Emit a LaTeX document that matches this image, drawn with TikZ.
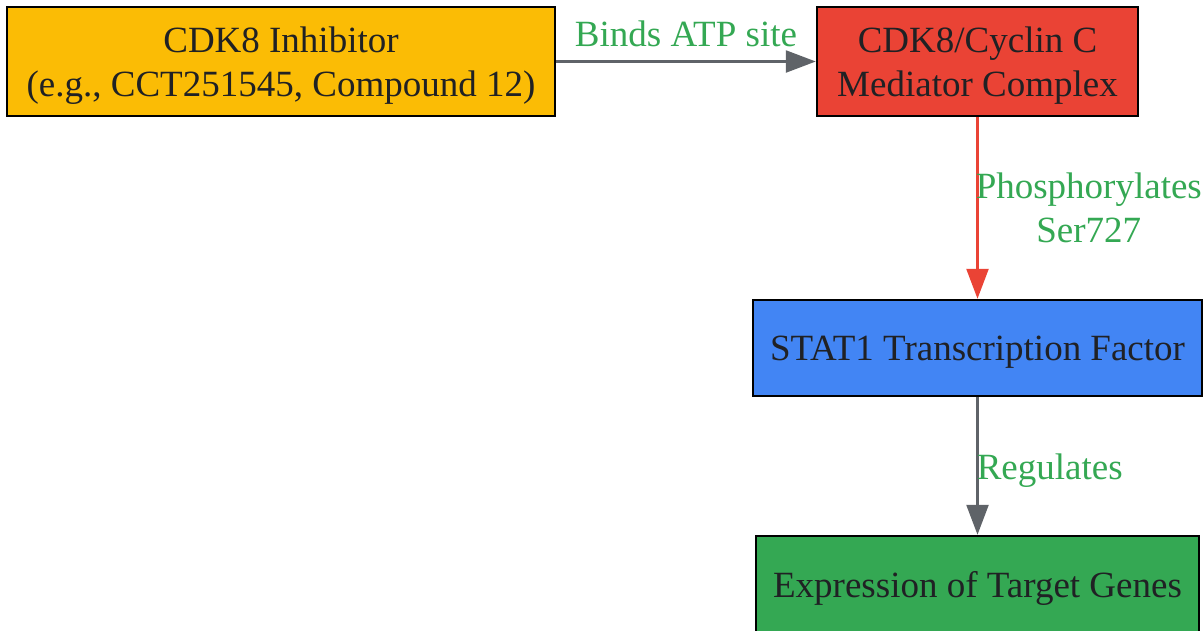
\documentclass[tikz,border=0pt]{standalone}
\usepackage{fontspec}
\setmainfont{Liberation Serif}
\usetikzlibrary{arrows.meta}

\definecolor{cYellow}{HTML}{FBBC05}
\definecolor{cRed}{HTML}{EA4335}
\definecolor{cBlue}{HTML}{4285F4}
\definecolor{cGreen}{HTML}{34A853}
\definecolor{cText}{HTML}{202124}
\definecolor{cGray}{HTML}{5F6368}

\begin{document}
\begin{tikzpicture}[x=1pt,y=-1pt]
	\useasboundingbox (0,0) rectangle (1204,630);
	\clip (0,0) rectangle (1204,630);
	\begin{scope}
		[
			styleText/.style={align=center, text=cText, yshift=-4pt,
				font=\fontsize{37}{44}\selectfont},
			styleBox/.style={draw=black, line width=2.5pt, inner sep=0pt,
				label={[styleText]center:#1}},
		]
		\node(inhibitor)[styleBox={CDK8 Inhibitor\\(e.g., CCT251545, Compound 12)},
			fill=cYellow, minimum width=548, minimum height=109] at (281,61.5) {};
		\node(cdk)[styleBox={CDK8/Cyclin C\\Mediator Complex},
			fill=cRed, minimum width=321, minimum height=109] at (977.5,61.5) {};
		\node(stat)[styleBox={STAT1 Transcription Factor},
			fill=cBlue, minimum width=449, minimum height=96] at (977.5,348) {};
		\node(genes)[styleBox={Expression of Target Genes},
			fill=cGreen, minimum width=443, minimum height=96] at (977.5,584) {};
	\end{scope}

	\begin{scope}
		[ link/.style = {line width=2.5pt, -{Triangle[length=30pt,width=22pt]}},
			tag/.style = {text=cGreen, align=center,
				font=\fontsize{37}{44}\selectfont}]
		\path
		(inhibitor) edge[link, draw=cGray]	node[tag, above, inner sep=13pt]{Binds ATP site}(cdk)
		(cdk) edge[link, draw=cRed]			node[tag, right, inner sep=0pt, xshift=-3pt]{Phosphorylates\\Ser727}(stat)
		(stat) edge[link, draw=cGray]		node[tag, right, inner sep=0pt, xshift=-2pt, yshift=-5pt]{Regulates}(genes);
	\end{scope}
\end{tikzpicture}
\end{document}
